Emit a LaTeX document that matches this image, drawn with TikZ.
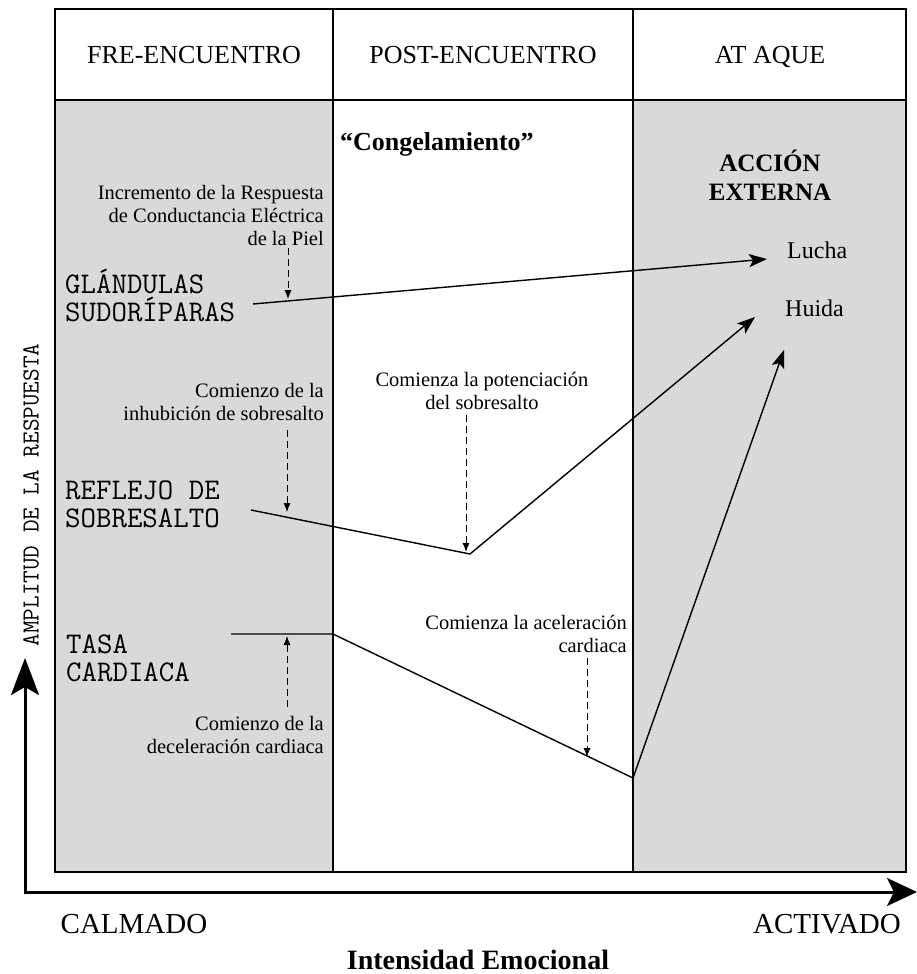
\documentclass[tikz,border=0pt]{standalone}
\usepackage{fontspec}
\setmainfont{Liberation Serif}
\usetikzlibrary{arrows.meta}

\tikzset{
  frame/.style={line width=1.2pt},
  curve/.style={line width=1.4pt},
  outarrow/.style={curve, -{Stealth[length=18pt,width=13pt,inset=4pt]}},
  hint/.style={line width=0.9pt, dash pattern=on 7pt off 4pt, -{Latex[length=9pt,width=7pt]}},
  axis/.style={line width=3pt, {Stealth[length=37pt,width=28pt,inset=8pt]}-{Stealth[length=30pt,width=28pt,inset=7pt]}},
  head/.style={font=\fontsize{26}{30}\selectfont, inner sep=0pt},
  small/.style={font=\fontsize{20.5}{23}\selectfont, inner sep=0pt},
  big/.style={font=\ttfamily\fontsize{30}{28}\selectfont, inner sep=0pt, align=left},
}

\begin{document}
\begin{tikzpicture}[x=1pt,y=-1pt]
       \useasboundingbox (0,0) rectangle (917,974);
       \fill[gray!30] ( 55,100) rectangle (333,872);
       \fill[gray!30] (633,100) rectangle (906,872);
       \draw[frame] ( 55,  9) rectangle (906,872);
       \draw[frame] ( 55,100) -- (906,100);
       \draw[frame] (333,  9) -- (333,872);
       \draw[frame] (633,  9) -- (633,872);
       % headers
       \node[head, anchor=base] (pre)    at (194,63.5) {FRE-ENCUENTRO};
       \node[head, anchor=base] (post)   at (483,63.5) {POST-ENCUENTRO};
       \node[head, anchor=base] (attack) at (770,63.5) {AT AQUE};
       \node[font=\bfseries\fontsize{26}{30}\selectfont, inner sep=0pt, anchor=base west] (freeze) at (340,150.5) {“Congelamiento”};
       \node[font=\bfseries\fontsize{25}{29}\selectfont, inner sep=0pt, anchor=north, align=center] (action) at (770,150) {ACCIÓN\\EXTERNA};
       \node[font=\fontsize{24}{28}\selectfont, inner sep=0pt, anchor=base west] (fight)  at (787,258) {Lucha};
       \node[font=\fontsize{24}{28}\selectfont, inner sep=0pt, anchor=base west] (flight) at (785,316) {Huida};
       % response labels (base = last line)
       \node[big, anchor=base west] (glands)  at (65,321) {GLÁNDULAS\\SUDORÍPARAS};
       \node[big, anchor=base west] (startle) at (65,527) {REFLEJO DE\\SOBRESALTO};
       \node[big, anchor=base west] (heart)   at (66,681) {TASA\\CARDIACA};
       % notes
       \node[small, anchor=north east, align=right] (skin)   at (324,185) {Incremento de la Respuesta\\de Conductancia Eléctrica\\de la Piel};
       \node[small, anchor=north east, align=right] (inhib)  at (324,383) {Comienzo de la\\inhubición de sobresalto};
       \node[small, anchor=north, align=center]     (potent) at (482,372) {Comienza la potenciación\\del sobresalto};
       \node[small, anchor=north east, align=right] (decel)  at (324,716) {Comienzo de la\\deceleración cardiaca};
       \node[small, anchor=north east, align=right] (accel)  at (627,615) {Comienza la aceleración\\cardiaca};
       % response curves
       \coordinate (g0) at (253,304); \coordinate (gl) at (767,259);
       \coordinate (r0) at (251,510); \coordinate (r1) at (470,554); \coordinate (rh) at (755,317);
       \coordinate (t0) at (231,634); \coordinate (t1) at (333,634);
       \coordinate (t2) at (633,778); \coordinate (th) at (784,350);
       \draw[outarrow] (g0) -- (gl);
       \draw[outarrow] (r0) -- (r1) -- (rh);
       \draw[outarrow] (t0) -- (t1) -- (t2) -- (th);
       % dashed pointers
       \coordinate (h1a) at (288,248); \coordinate (h1b) at (288,299);
       \coordinate (h2a) at (287,430); \coordinate (h2b) at (287,512);
       \coordinate (h3a) at (466,415); \coordinate (h3b) at (466,552);
       \coordinate (h4a) at (287,707); \coordinate (h4b) at (287,636);
       \coordinate (h5a) at (587,658); \coordinate (h5b) at (587,757);
       \draw[hint] (h1a) -- (h1b);
       \draw[hint] (h2a) -- (h2b);
       \draw[hint] (h3a) -- (h3b);
       \draw[hint] (h4a) -- (h4b);
       \draw[hint] (h5a) -- (h5b);
       % axes
       \coordinate (ytip) at (25,658); \coordinate (origin) at (25,892); \coordinate (xtip) at (917,892);
       \draw[axis] (ytip) -- (origin) -- (xtip);
       \node[font=\ttfamily\fontsize{24.5}{26}\selectfont, inner sep=0pt, rotate=90] (amp) at (31,495) {AMPLITUD DE LA RESPUESTA};
       \node[font=\fontsize{29}{32}\selectfont, inner sep=0pt, anchor=base] (calm)   at (134,933) {CALMADO};
       \node[font=\fontsize{29}{32}\selectfont, inner sep=0pt, anchor=base] (active) at (827,933) {ACTIVADO};
       \node[font=\bfseries\fontsize{28}{32}\selectfont, inner sep=0pt, anchor=base] (intensity) at (478,969.5) {Intensidad Emocional};
\end{tikzpicture}
\end{document}
